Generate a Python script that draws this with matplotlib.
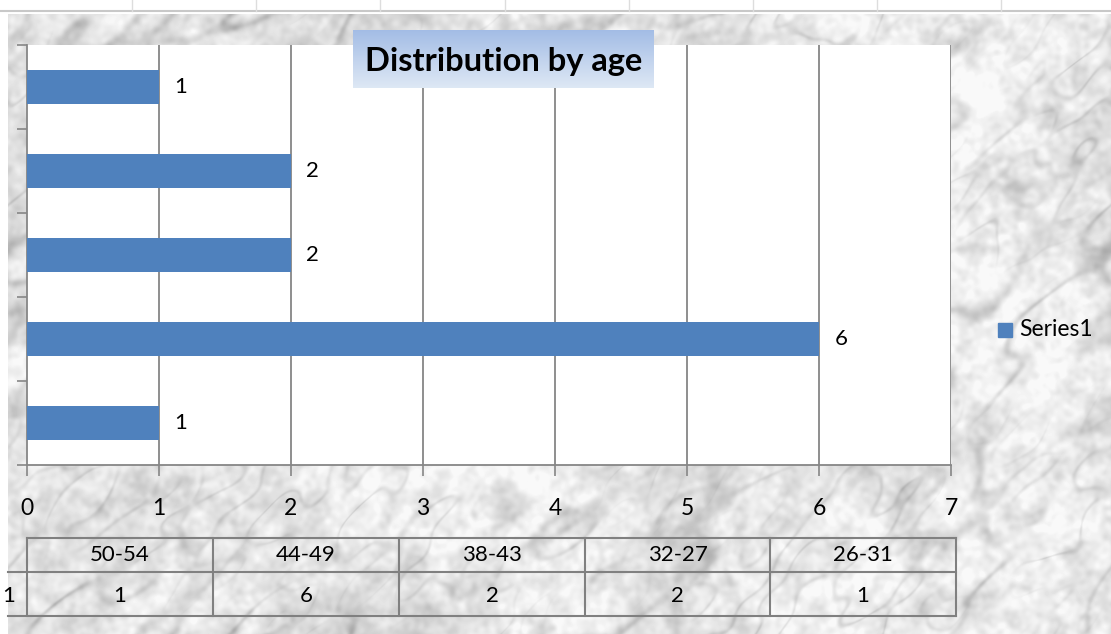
import numpy as np
import matplotlib
matplotlib.use("Agg")
import matplotlib.pyplot as plt
from matplotlib.lines import Line2D
from matplotlib.patches import Rectangle

# Age groups, listed from the bottom bar to the top bar
age_groups = ["50-54", "44-49", "38-43", "32-27", "26-31"]
counts = [1, 6, 2, 2, 1]
x_ticks = [0, 1, 2, 3, 4, 5, 6, 7]
series_name = "Series1"
title = "Distribution by age"

W, H = 1111, 634
DPI = 100
FONT = ["Lato", "DejaVu Sans"]
BAR = "#4f81bd"
GRID = "#868686"

fig = plt.figure(figsize=(W / DPI, H / DPI), dpi=DPI)
fig.patch.set_facecolor("white")


def fbox(x0, y0, x1, y1):
    """Pixel box (top-left origin) -> figure fraction rect."""
    return [x0 / W, 1 - y1 / H, (x1 - x0) / W, (y1 - y0) / H]


def smooth_noise(rng, shape, sx, sy, angle=0.0):
    """White noise low-passed by an (optionally rotated) gaussian in Fourier space."""
    n = rng.standard_normal(shape)
    fy = np.fft.fftfreq(shape[0])[:, None]
    fx = np.fft.fftfreq(shape[1])[None, :]
    ca, sa = np.cos(angle), np.sin(angle)
    u = fx * ca + fy * sa
    v = -fx * sa + fy * ca
    k = np.exp(-2 * (np.pi ** 2) * ((u * sx) ** 2 + (v * sy) ** 2))
    out = np.real(np.fft.ifft2(np.fft.fft2(n) * k))
    return (out - out.mean()) / out.std()


# ---- marble backdrop -------------------------------------------------------
bx0, by0 = 8, 14
rng = np.random.default_rng(11)
shape = (H - by0, W - bx0)
clouds = smooth_noise(rng, shape, 45, 45)
mottle = smooth_noise(rng, shape, 7, 7)
veins_a = smooth_noise(rng, shape, 30, 12, angle=-0.6)
veins_b = smooth_noise(rng, shape, 16, 7, angle=-0.8)
mask = smooth_noise(rng, shape, 40, 40)
speck = smooth_noise(rng, shape, 2.5, 2.5)
grey = (0.92
        + 0.03 * clouds
        - 0.028 * np.clip(mottle, -1, 3)
        - 0.13 * np.exp(-(veins_a / 0.30) ** 2) * np.clip(0.55 + 0.5 * mask, 0, 1)
        - 0.08 * np.exp(-(veins_b / 0.28) ** 2) * np.clip(0.35 - 0.5 * mask, 0, 1)
        - 0.02 * speck)
grey = np.clip(grey, 0.6, 0.975)
bg = fig.add_axes(fbox(bx0, by0, W, H))
bg.imshow(grey, cmap="gray", vmin=0, vmax=1, aspect="auto",
          interpolation="bilinear")
bg.set_axis_off()

# ---- overlay in pixel coordinates -------------------------------------------
ov = fig.add_axes([0, 0, 1, 1], zorder=5)
ov.set_xlim(0, W)
ov.set_ylim(H, 0)
ov.set_axis_off()
ov.patch.set_alpha(0)

# spreadsheet grid peeking out at the top
ov.add_line(Line2D([0, W], [11, 11], color="#c8c8c8", lw=1.5))
for gx in [132, 256, 380, 505, 629, 753, 877, 1001]:
    ov.add_line(Line2D([gx, gx], [0, 11], color="#dddddd", lw=1))

# ---- bar chart --------------------------------------------------------------
ax = fig.add_axes(fbox(27, 45, 951, 465), zorder=3)
ax.set_facecolor("white")
pos = np.arange(len(age_groups))
ax.barh(pos, counts, height=0.4, color=BAR, zorder=3)
ax.set_xlim(x_ticks[0], x_ticks[-1])
ax.set_ylim(-0.5, len(age_groups) - 0.5)
for v in x_ticks[1:]:
    ax.axvline(v, color=GRID, lw=1.3, zorder=1)
for side in ["top", "right"]:
    ax.spines[side].set_visible(False)
for side in ["left", "bottom"]:
    ax.spines[side].set_color(GRID)
    ax.spines[side].set_linewidth(1.3)
ax.set_yticks(np.arange(-0.5, len(age_groups), 1.0))
ax.set_yticklabels([])
ax.tick_params(axis="y", length=7, width=1.2, color=GRID)
ax.set_xticks(x_ticks)
ax.set_xticklabels([str(t) for t in x_ticks], fontsize=16.5, family=FONT)
ax.tick_params(axis="x", length=8, width=1.2, color=GRID, pad=16)

for p, c in zip(pos, counts):
    ax.annotate(str(c), (c, p), xytext=(11, 0), textcoords="offset points",
                va="center", ha="left", fontsize=16, family=FONT)

# ---- title with gradient box ------------------------------------------------
grad = np.linspace(0, 1, 64)[:, None]
top_c = np.array([0.64, 0.74, 0.90])
bot_c = np.array([0.87, 0.91, 0.96])
img = top_c[None, None, :] * (1 - grad[:, :, None]) + bot_c[None, None, :] * grad[:, :, None]
ov.imshow(img, extent=[353, 654, 88, 30], aspect="auto", zorder=6)
ov.text(503.5, 61, title, ha="center", va="center", fontsize=23.5,
        fontweight="bold", family=FONT, zorder=7)
ov.set_xlim(0, W)
ov.set_ylim(H, 0)

# ---- legend -----------------------------------------------------------------
ov.add_patch(Rectangle((998, 323), 14, 14, color=BAR, zorder=6))
ov.text(1019, 330, series_name, ha="left", va="center", fontsize=16.5,
        family=FONT, zorder=7)

# ---- data table -------------------------------------------------------------
cols = [27, 213, 399, 585, 770, 956]
r0, r1, r2 = 538, 572, 616
lc = "#808080"
ov.add_line(Line2D([cols[0], cols[-1]], [r0, r0], color=lc, lw=1.5, zorder=6))
ov.add_line(Line2D([bx0, cols[-1]], [r1, r1], color=lc, lw=1.5, zorder=6))
ov.add_line(Line2D([bx0, cols[-1]], [r2, r2], color=lc, lw=1.5, zorder=6))
for cx in cols:
    ov.add_line(Line2D([cx, cx], [r0, r2], color=lc, lw=1.5, zorder=6))
for i, (g, c) in enumerate(zip(age_groups, counts)):
    xc = (cols[i] + cols[i + 1]) / 2
    ov.text(xc, (r0 + r1) / 2, g, ha="center", va="center", fontsize=16,
            family=FONT, zorder=7)
    ov.text(xc, (r1 + r2) / 2 + 2, str(c), ha="center", va="center",
            fontsize=16, family=FONT, zorder=7)
# row header: only the trailing digit of the series name is in view
ov.text(2, (r1 + r2) / 2 + 2, series_name[-1], ha="left", va="center",
        fontsize=16, family=FONT, zorder=7)

fig.savefig("out.png", dpi=DPI)
